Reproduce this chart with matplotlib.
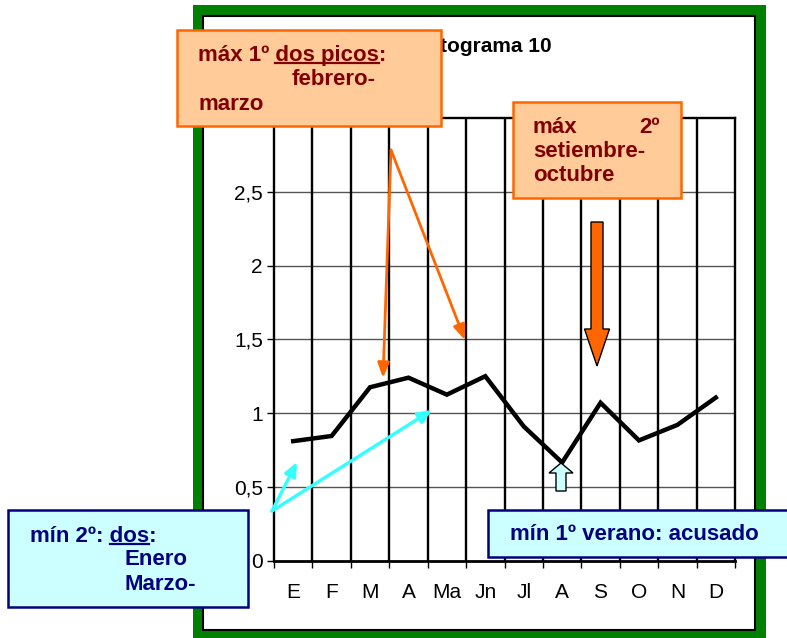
'''
Climatograma 10: monthly curve with the annotated maxima and minima.
'''

import matplotlib
matplotlib.use('Agg')
import matplotlib.pyplot as plt
import matplotlib.patches as mpatches

# Data

months = ['E', 'F', 'M', 'A', 'Ma', 'Jn', 'Jl', 'A', 'S', 'O', 'N', 'D']
values = [0.81, 0.845, 1.175, 1.24, 1.125, 1.25, 0.91, 0.665, 1.07,
          0.815, 0.92, 1.105]
yticks = [0, 0.5, 1, 1.5, 2, 2.5, 3]
# top label sits under the first note box, so it is left blank
ytick_labels = ['0', '0,5', '1', '1,5', '2', '2,5', '']
title = 'Climatograma 10'

# Colours

GREEN = '#008000'
ORANGE_FILL = '#FFCC99'
ORANGE = '#FF6600'
DARK_RED = '#800000'
CYAN_FILL = '#CCFFFF'
CYAN = '#33FFFF'
NAVY = '#000080'

plt.rcParams['font.family'] = ['Liberation Sans', 'DejaVu Sans']

W, H = 787, 638
fig = plt.figure(figsize=(W / 100, H / 100), dpi=100)

# Background frame (pixel coordinates)
bg = fig.add_axes([0, 0, 1, 1])
bg.set_xlim(0, W)
bg.set_ylim(H, 0)
bg.axis('off')
bg.add_patch(mpatches.Rectangle((193, 5), 573, 645, facecolor=GREEN,
                                edgecolor='none'))
bg.add_patch(mpatches.Rectangle((203, 16), 552, 614, facecolor='white',
                                edgecolor='black', linewidth=1.5))
bg.text(467, 47, title, ha='center', va='center', fontsize=15,
        fontweight='bold')

# Main chart
ax = fig.add_axes([274 / W, 1 - 560.7 / H, 461 / W, 442.8 / H])
ax.set_facecolor('white')
x = [i + 0.5 for i in range(len(months))]
ax.set_xlim(0, len(months))
ax.set_ylim(0, 3)

for yv in yticks[1:-1]:
    ax.axhline(yv, color='#555555', linewidth=1, zorder=1)
for k in range(1, len(months)):
    ax.axvline(k, color='black', linewidth=1.7, zorder=1)

ax.plot(x, values, color='black', linewidth=3.2, zorder=3,
        solid_joinstyle='miter')

for side in ['left', 'right', 'top', 'bottom']:
    ax.spines[side].set_color('black')
    ax.spines[side].set_linewidth(1.7)
ax.spines['bottom'].set_linewidth(2)

ax.set_yticks(yticks)
ax.set_yticklabels(ytick_labels)
ax.set_xticks(range(len(months) + 1))
ax.set_xticklabels([])
ax.set_xticks(x, minor=True)
ax.set_xticklabels(months, minor=True)
ax.tick_params(axis='y', direction='out', length=5, width=1, pad=3,
               labelsize=15)
ax.tick_params(axis='x', which='major', direction='out', length=5, width=1)
ax.tick_params(axis='x', which='minor', length=0, pad=16, labelsize=15)

# Annotation layer (pixel coordinates)
ov = fig.add_axes([0, 0, 1, 1])
ov.set_xlim(0, W)
ov.set_ylim(H, 0)
ov.axis('off')
ov.patch.set_alpha(0)
renderer = fig.canvas.get_renderer()


def text_width(s, **kw):
    tmp = ov.text(0, 0, s, **kw)
    w = tmp.get_window_extent(renderer).width
    tmp.remove()
    return w


def underlined(x0, y0, pre, word, post, color):
    kw = dict(fontsize=16, fontweight='bold', color=color)
    ov.text(x0, y0, pre + word + post, va='baseline', zorder=6, **kw)
    space = text_width('a a', **kw) - text_width('aa', **kw)
    start = x0 + text_width(pre.rstrip(), **kw) + space
    end = start + text_width(word, **kw)
    ov.plot([start, end], [y0 + 2, y0 + 2], color=color, linewidth=1.6,
            zorder=6)


def box(x0, y0, w, h, fill, edge):
    ov.add_patch(mpatches.Rectangle((x0, y0), w, h, facecolor=fill,
                                    edgecolor=edge, linewidth=1.8, zorder=5))


def note(x0, y0, s, color, ha='left'):
    ov.text(x0, y0, s, ha=ha, va='baseline', fontsize=16, fontweight='bold',
            color=color, zorder=6)


# First maximum
box(177, 30, 264, 96, ORANGE_FILL, ORANGE)
underlined(198, 61, 'máx 1º ', 'dos picos', ':', DARK_RED)
note(292, 85, 'febrero-', DARK_RED)
note(198, 110, 'marzo', DARK_RED)
for tip in [(383, 378), (465, 340)]:
    ov.annotate('', xy=tip, xytext=(391, 150), zorder=4,
                arrowprops=dict(arrowstyle='-|>,head_length=0.9,head_width=0.35',
                                color=ORANGE, linewidth=2, shrinkA=0,
                                shrinkB=0))

# Second maximum
box(513, 102, 168, 96, ORANGE_FILL, ORANGE)
note(533, 133, 'máx', DARK_RED)
note(660, 133, '2º', DARK_RED, ha='right')
note(533, 157, 'setiembre-', DARK_RED)
note(533, 181, 'octubre', DARK_RED)
ov.add_patch(mpatches.FancyArrow(597, 222, 0, 144, width=12, head_width=25,
                                 head_length=37, length_includes_head=True,
                                 facecolor=ORANGE, edgecolor='black',
                                 linewidth=1, zorder=4))

# Secondary minimum
for tip in [(297, 462), (432, 410)]:
    ov.annotate('', xy=tip, xytext=(272, 511), zorder=4,
                arrowprops=dict(arrowstyle='-|>,head_length=0.8,head_width=0.35',
                                color=CYAN, linewidth=2.4, shrinkA=0,
                                shrinkB=0))
box(8, 510, 240, 97, CYAN_FILL, NAVY)
underlined(30, 542, 'mín 2º: ', 'dos', ':', NAVY)
note(124, 565, 'Enero', NAVY)
note(124, 590, 'Marzo-', NAVY)

# Main minimum
ov.add_patch(mpatches.FancyArrow(561, 491, 0, -28, width=10, head_width=24,
                                 head_length=10, length_includes_head=True,
                                 facecolor=CYAN_FILL, edgecolor='black',
                                 linewidth=1, zorder=4))
box(488, 510, 300, 47, CYAN_FILL, NAVY)
note(510, 540, 'mín 1º verano: acusado', NAVY)

fig.savefig('out.png', dpi=100)
